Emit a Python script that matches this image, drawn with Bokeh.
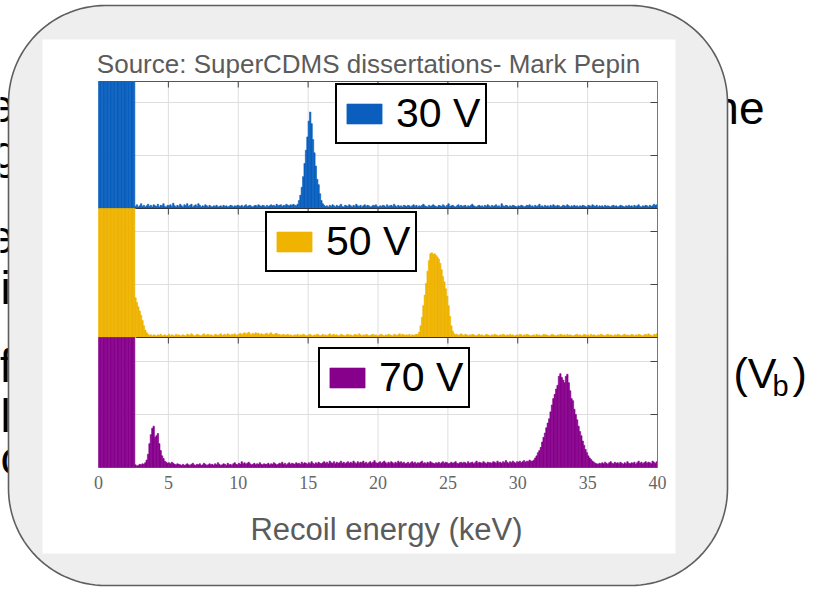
import math
from bokeh.plotting import figure
from bokeh.models import Range1d, Legend, LegendItem
from bokeh.core.properties import value
from bokeh.embed import file_html
from bokeh.resources import INLINE

# ---------------- data ----------------
BIN_WIDTH = 0.1          # keV
E_MIN, E_MAX = 0, 40     # keV
# counts per 0.1 keV bin (first bins are off-scale, clipped at the panel top)
counts_30V = (
    [5000] * 20 +
    [5000, 5000, 5000, 5000, 5000, 5000, 4, 7, 3, 5, 9, 4, 6, 3, 5, 8, 4, 6, 3, 7] +
    [5, 4, 8, 3, 6, 5, 9, 4, 3, 6, 5, 7, 4, 10, 5, 3, 6, 4, 8, 5] +
    [3, 7, 5, 9, 4, 6, 8, 3, 5, 7, 4, 9, 6, 3, 5, 4, 7, 5, 3, 6] +
    [4, 3, 5, 4, 6, 3, 4, 5, 3, 6, 4, 5, 3, 4, 6, 5, 3, 5, 4, 6] +
    [5, 4, 6, 3, 5, 7, 4, 5, 6, 4, 3, 5, 6, 4, 7, 5, 4, 6, 5, 3] +
    [6, 4, 5, 7, 5, 6, 4, 8, 5, 6, 7, 4, 6, 5, 8, 6, 5, 7, 6, 8] +
    [6, 5, 8, 15, 25, 40, 60, 85, 110, 135, 165, 182, 160, 130, 105, 80, 55, 45, 28, 15] +
    [9, 6, 4, 5, 3, 6, 4, 7, 5, 3, 6, 4, 5, 8, 4, 3, 6, 5, 4, 7] +
    [5, 3, 6, 4, 8, 5, 4, 6, 3, 5, 7, 4, 6, 5, 3, 4, 6, 5, 7, 4] +
    [3, 5, 4, 6, 5, 3, 7, 4, 5, 6, 4, 8, 5, 3, 6, 4, 5, 3, 6, 5] +
    [4, 6, 5, 3, 5, 7, 4, 6, 3, 5, 4, 6, 8, 5, 4, 3, 6, 4, 5, 7] +
    [5, 4, 3, 6, 5, 4, 7, 5, 3, 6, 9, 4, 5, 6, 4, 3, 5, 7, 4, 6] +
    [4, 5, 6, 3, 5, 4, 6, 8, 5, 4, 3, 5, 6, 4, 5, 3, 6, 4, 7, 5] +
    [3, 6, 4, 5, 7, 4, 5, 3, 9, 5, 4, 6, 5, 3, 5, 4, 6, 5, 4, 3] +
    [5, 4, 6, 5, 3, 4, 6, 5, 7, 4, 5, 3, 6, 4, 5, 8, 4, 5, 3, 6] +
    [4, 5, 3, 6, 4, 7, 5, 4, 6, 5, 3, 4, 6, 5, 4, 7, 5, 3, 5, 4] +
    [6, 4, 5, 3, 5, 4, 6, 5, 4, 3, 6, 5, 4, 7, 5, 4, 6, 3, 5, 4] +
    [5, 3, 6, 4, 5, 4, 3, 5, 6, 4, 5, 3, 4, 6, 5, 4, 3, 5, 4, 6] +
    [4, 5, 3, 6, 4, 5, 7, 4, 3, 5, 4, 6, 5, 3, 6, 4, 5, 8, 6, 7]
)
counts_50V = (
    [5000] * 20 +
    [5000, 5000, 5000, 5000, 5000, 5000, 75, 66, 58, 50, 42, 32, 22, 14, 9, 6, 4, 5, 3, 5] +
    [4, 3, 5, 4, 6, 3, 4, 5, 3, 4, 6, 3, 5, 4, 3, 6, 4, 5, 3, 4] +
    [5, 4, 3, 6, 5, 4, 7, 5, 3, 4, 6, 5, 4, 3, 5, 7, 4, 5, 6, 4] +
    [5, 4, 3, 6, 5, 4, 5, 7, 4, 5, 6, 4, 7, 5, 4, 6, 5, 7, 4, 5] +
    [6, 8, 5, 7, 9, 6, 8, 10, 7, 5, 8, 6, 9, 7, 8, 5, 7, 6, 5, 7] +
    [8, 5, 7, 9, 6, 5, 7, 8, 5, 6, 4, 5, 6, 4, 5, 6, 4, 5, 3, 4] +
    [5, 4, 6, 3, 5, 4, 6, 5, 3, 4, 5, 6, 4, 3, 5, 4, 6, 5, 3, 4] +
    [6, 4, 5, 3, 5, 7, 4, 5, 6, 4, 5, 3, 4, 6, 5, 4, 3, 5, 6, 4] +
    [5, 3, 4, 6, 5, 4, 7, 5, 3, 5, 4, 6, 5, 3, 4, 5, 6, 4, 5, 3] +
    [4, 5, 6, 4, 3, 5, 4, 6, 5, 4, 3, 6, 5, 4, 5, 7, 4, 6, 5, 4] +
    [5, 4, 6, 3, 5, 4, 5, 6, 6, 10, 22, 38, 60, 80, 102, 125, 145, 158, 160, 157] +
    [158, 155, 152, 148, 140, 128, 115, 105, 92, 78, 60, 40, 22, 12, 7, 5, 6, 4, 5, 7] +
    [5, 4, 6, 5, 3, 5, 4, 6, 5, 4, 3, 5, 6, 4, 5, 3, 4, 6, 5, 4] +
    [3, 5, 4, 6, 5, 4, 3, 5, 4, 6, 5, 3, 5, 4, 6, 4, 5, 3, 4, 5] +
    [4, 6, 5, 3, 5, 4, 6, 5, 4, 3, 4, 5, 3, 6, 4, 5, 3, 4, 6, 5] +
    [5, 4, 3, 4, 6, 5, 4, 3, 5, 4, 6, 5, 4, 5, 3, 6, 4, 5, 4, 3] +
    [4, 5, 6, 4, 5, 3, 4, 6, 5, 4, 5, 3, 6, 4, 5, 4, 3, 5, 4, 6] +
    [5, 4, 3, 5, 6, 4, 5, 4, 3, 5, 4, 6, 5, 4, 3, 5, 6, 4, 5, 4] +
    [4, 6, 5, 3, 5, 4, 6, 5, 4, 3, 5, 6, 4, 7, 5, 4, 3, 6, 5, 7]
)
counts_70V = (
    [5000] * 20 +
    [5000, 5000, 5000, 5000, 5000, 5000, 5, 3, 4, 6, 5, 7, 6, 9, 14, 25, 45, 62, 74, 78] +
    [57, 60, 64, 45, 32, 22, 17, 12, 10, 8, 9, 7, 10, 8, 6, 5, 7, 6, 5, 4] +
    [6, 4, 5, 7, 5, 4, 6, 8, 5, 4, 6, 5, 7, 4, 5, 8, 6, 4, 5, 7] +
    [5, 6, 4, 7, 5, 9, 6, 4, 5, 7, 6, 4, 8, 5, 6, 4, 7, 9, 6, 5] +
    [8, 6, 11, 7, 9, 6, 8, 10, 7, 5, 6, 8, 5, 7, 6, 9, 6, 5, 7, 6] +
    [6, 8, 5, 7, 6, 9, 7, 5, 6, 8, 7, 10, 6, 8, 5, 7, 9, 6, 8, 7] +
    [6, 9, 7, 8, 6, 10, 7, 9, 8, 6, 9, 7, 11, 8, 6, 9, 7, 10, 8, 7] +
    [9, 11, 8, 10, 7, 12, 9, 8, 11, 7, 10, 8, 9, 12, 8, 10, 7, 9, 11, 8] +
    [10, 8, 12, 9, 7, 11, 8, 10, 9, 12, 8, 10, 7, 9, 11, 8, 10, 13, 9, 8] +
    [9, 11, 8, 10, 12, 9, 7, 10, 8, 11, 9, 7, 10, 8, 12, 9, 11, 8, 10, 7] +
    [8, 10, 7, 9, 11, 8, 10, 7, 9, 8, 10, 12, 8, 9, 7, 10, 8, 11, 9, 8] +
    [7, 9, 8, 10, 7, 9, 11, 8, 10, 9, 7, 8, 10, 8, 9, 11, 8, 7, 9, 10] +
    [8, 10, 9, 7, 11, 8, 9, 10, 7, 9, 12, 8, 10, 9, 8, 11, 9, 7, 10, 9] +
    [9, 8, 11, 10, 8, 12, 9, 10, 8, 11, 9, 13, 10, 8, 11, 9, 12, 10, 8, 11] +
    [10, 12, 9, 11, 13, 10, 12, 11, 14, 12, 12, 14, 18, 22, 28, 32, 38, 48, 57, 65] +
    [75, 84, 92, 105, 118, 130, 138, 148, 155, 172, 177, 170, 165, 160, 172, 176, 160, 145, 130, 126] +
    [110, 100, 90, 78, 68, 60, 50, 42, 34, 28, 22, 18, 15, 12, 10, 8, 7, 6, 8, 7] +
    [9, 7, 10, 8, 6, 9, 11, 8, 7, 10, 8, 9, 7, 10, 8, 6, 9, 7, 11, 8] +
    [7, 9, 8, 10, 6, 9, 12, 8, 10, 7, 9, 11, 8, 10, 9, 7, 12, 10, 8, 11]
)
series_counts = [counts_30V, counts_50V, counts_70V]
series_labels = ["30 V", "50 V", "70 V"]
series_colors = ["#0a5fbe", "#efb300", "#87008c"]
x_ticks = [0, 5, 10, 15, 20, 25, 30, 35, 40]
x_tick_labels = [str(t) for t in x_ticks]
y_grid_counts = [100, 200]
x_label = "Recoil energy (keV)"
source_note = "Source: SuperCDMS dissertations- Mark Pepin"
slide_left_fragments = ["ea", "go", "ea", "in", "fo", "lo", "co"]
slide_right_word = "ne"

# ---------------- layout (pixels) ----------------
W, H = 814, 590
AX_L, AX_R = 98, 657
PANEL_TOP = [81, 208, 337]
PANEL_BASE = [208, 337, 467]
PX_PER_COUNT = 53 / 100
SX = (AX_R - AX_L) / (E_MAX - E_MIN)
LEGEND_BOX = [(335, 144), (265, 272), (318, 408)]   # left, bottom
CARD = (8, 727, 5, 585)   # left, right, top, bottom
CARD_R = 97

p = figure(width=W, height=H, x_range=Range1d(0, W), y_range=Range1d(H, 0),
           output_backend="svg", toolbar_location=None,
           x_axis_location=None, y_axis_location=None, min_border=0)
p.outline_line_color = None
p.grid.visible = False
p.background_fill_color = "white"
p.border_fill_color = "white"

p.extra_x_ranges = {"e": Range1d(E_MIN - AX_L / SX, E_MIN + (W - AX_L) / SX)}
p.extra_y_ranges = {f"p{i}": Range1d(-(H - b) / PX_PER_COUNT, b / PX_PER_COUNT)
                    for i, b in enumerate(PANEL_BASE)}

# ---- slide text behind the picture ----
FONT = value("Liberation Sans")
frag_x = [-12, -8, -12, 0, -1, 0, 0]
frag_y = [105, 151, 236, 287, 365, 415, 457]
p.text(x=frag_x, y=frag_y, text=slide_left_fragments, text_font=FONT,
       text_font_size="46px", text_color="black", text_baseline="alphabetic",
       level="image")
p.text(x=[764], y=[107], text=[slide_right_word], text_font=FONT, text_font_size="46px",
       text_align="right", text_baseline="alphabetic", text_color="black", level="image")
p.text(x=[733, 792], y=[372, 372], text=["(V", ")"], text_font=FONT, text_font_size="43px",
       text_baseline="alphabetic", text_color="black", level="image")
p.text(x=[772], y=[385], text=["b"], text_font=FONT, text_font_size="29px",
       text_baseline="alphabetic", text_color="black", level="image")

# ---- rounded card and picture area ----
cl, cr, ct, cb = CARD
cx, cy = [], []
corners = [(cr - CARD_R, ct + CARD_R, -90, 0), (cr - CARD_R, cb - CARD_R, 0, 90),
           (cl + CARD_R, cb - CARD_R, 90, 180), (cl + CARD_R, ct + CARD_R, 180, 270)]
for (ox, oy, a0, a1) in corners:
    for k in range(31):
        a = math.radians(a0 + (a1 - a0) * k / 30)
        cx.append(ox + CARD_R * math.cos(a))
        cy.append(oy + CARD_R * math.sin(a))
p.patch(x=cx, y=cy, fill_color="#eeeeee", line_color="#5e5e5e", line_width=1.6)
p.quad(left=[42], right=[675], top=[39], bottom=[553], fill_color="white", line_color=None)

p.text(x=[368], y=[63], text=[source_note], text_font=FONT, text_font_size="26px",
       text_align="center", text_baseline="alphabetic", text_color="#5b5b5b")

# ---- grid ----
inner = [t for t in x_ticks if E_MIN < t < E_MAX]
p.segment(x0=inner, x1=inner, y0=[PANEL_TOP[0]] * len(inner), y1=[PANEL_BASE[-1]] * len(inner),
          x_range_name="e", line_color="#dedede", line_width=1)
for i in range(3):
    n = len(y_grid_counts)
    p.segment(x0=[E_MIN] * n, x1=[E_MAX] * n, y0=y_grid_counts, y1=y_grid_counts,
              x_range_name="e", y_range_name=f"p{i}", line_color="#dedede", line_width=1)

# ---- histograms ----
bar_renderers = []
for i, counts in enumerate(series_counts):
    cmax = (PANEL_BASE[i] - PANEL_TOP[i]) / PX_PER_COUNT
    left = [E_MIN + k * BIN_WIDTH for k in range(len(counts))]
    right = [x + BIN_WIDTH for x in left]
    top = [min(c, cmax) for c in counts]
    r = p.quad(left=left, right=right, top=top, bottom=[0] * len(counts),
               x_range_name="e", y_range_name=f"p{i}",
               fill_color=series_colors[i], line_color=series_colors[i], line_width=0.6)
    bar_renderers.append(r)

# ---- axes box and ticks ----
p.segment(x0=[E_MIN], x1=[E_MAX], y0=[PANEL_TOP[0]], y1=[PANEL_TOP[0]], x_range_name="e",
          line_color="#555555", line_width=1)
p.segment(x0=[E_MAX], x1=[E_MAX], y0=[PANEL_TOP[0]], y1=[PANEL_BASE[-1]], x_range_name="e",
          line_color="#777777", line_width=1)
for t in PANEL_TOP[1:]:
    p.segment(x0=[E_MIN + 2.7], x1=[E_MAX], y0=[t], y1=[t], x_range_name="e",
              line_color="#2e3440", line_width=1.2)
for t in PANEL_TOP:
    p.segment(x0=inner, x1=inner, y0=[t] * len(inner), y1=[t + 6] * len(inner),
              x_range_name="e", line_color="#444444", line_width=1)
for i in range(3):
    n = len(y_grid_counts)
    p.segment(x0=[E_MAX] * n, x1=[E_MAX - 7 / SX] * n, y0=y_grid_counts, y1=y_grid_counts,
              x_range_name="e", y_range_name=f"p{i}", line_color="#444444", line_width=1)

p.text(x=x_ticks, y=[482] * len(x_ticks), text=x_tick_labels, x_range_name="e",
       text_font=value("Liberation Serif"), text_font_size="18px", text_color="#666666",
       text_align="center", text_baseline="middle")
p.text(x=[386], y=[529], text=[x_label], text_font=FONT, text_font_size="31px",
       text_align="center", text_baseline="alphabetic", text_color="#5b5b5b")

# ---- legends ----
for i, r in enumerate(bar_renderers):
    lx, lb = LEGEND_BOX[i]
    lg = Legend(items=[LegendItem(label=series_labels[i], renderers=[r])],
                location=(lx, H - lb), margin=0, padding=5, spacing=0,
                glyph_width=44, glyph_height=25, label_standoff=10,
                label_text_font="Liberation Sans", label_text_font_size="41px",
                label_text_color="black", border_line_color="black", border_line_width=2,
                border_line_alpha=1, background_fill_color="white", background_fill_alpha=1)
    p.add_layout(lg)

open("out.html", "w").write(file_html(p, INLINE))
